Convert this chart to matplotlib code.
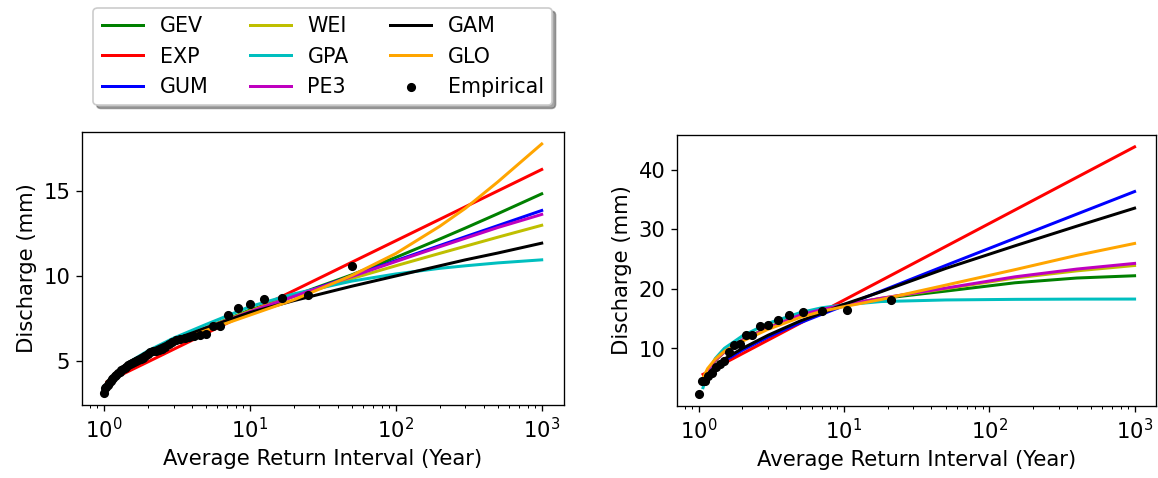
import matplotlib
matplotlib.use("Agg")
import matplotlib.pyplot as plt
import numpy as np

plt.rcParams['font.size'] = 12.7

## Left panel: return periods of the fitted curves and their quantiles (mm)
T_left = [1.05, 1.2, 1.5, 2, 3, 5, 10, 20, 50, 100, 200, 300, 500, 1000]
gev_left = [3.6, 4.15, 4.75, 5.35, 6.1, 6.95, 8.0, 8.84, 10.07, 11.09, 12.17, 12.82, 13.66, 14.83]
exp_left = [3.78, 4.02, 4.43, 4.95, 5.69, 6.62, 7.88, 9.14, 10.81, 12.07, 13.33, 14.07, 15.0, 16.26]
gum_left = [3.59, 4.26, 4.89, 5.48, 6.17, 6.93, 7.89, 8.81, 10.0, 10.9, 11.79, 12.31, 12.96, 13.85]
wei_left = [3.5, 4.2, 4.85, 5.47, 6.18, 6.95, 7.95, 8.8, 9.85, 10.6, 11.33, 11.75, 12.28, 12.98]
gpa_left = [3.4, 4.25, 4.95, 5.6, 6.35, 7.15, 8.2, 8.95, 9.7, 10.12, 10.45, 10.6, 10.77, 10.95]
pe3_left = [3.6, 4.25, 4.88, 5.47, 6.17, 6.93, 7.9, 8.8, 9.97, 10.85, 11.72, 12.22, 12.85, 13.62]
gam_left = [3.7, 4.3, 4.95, 5.55, 6.25, 6.95, 7.85, 8.55, 9.4, 10.0, 10.6, 10.95, 11.35, 11.93]
glo_left = [3.75, 4.3, 4.85, 5.4, 6.05, 6.8, 7.7, 8.6, 10.03, 11.32, 12.92, 13.98, 15.53, 17.76]

## Left panel empirical points, largest first (return period = n / rank)
emp_left = [10.58, 8.87, 8.68, 8.64, 8.35, 8.09, 7.70, 7.04, 7.04, 6.60,
            6.55, 6.48, 6.42, 6.37, 6.28, 6.21, 6.12, 6.00, 5.85, 5.72,
            5.67, 5.62, 5.58, 5.52, 5.40, 5.28, 5.18, 5.12, 5.05, 4.98,
            4.92, 4.86, 4.80, 4.75, 4.68, 4.60, 4.55, 4.47, 4.38, 4.28,
            4.17, 4.10, 4.02, 3.95, 3.85, 3.72, 3.60, 3.50, 3.40, 3.15]

## Right panel
T_right = [1.07, 1.15, 1.3, 1.5, 2, 3, 5, 7, 10, 18, 50, 150, 400, 1000]
gev_right = [4.5, 6.3, 8.0, 9.4, 11.4, 13.5, 15.6, 16.5, 17.3, 18.35, 19.6, 21.0, 21.8, 22.18]
exp_right = [5.63, 6.03, 6.71, 7.51, 9.12, 11.38, 14.23, 16.11, 18.10, 21.38, 27.08, 33.21, 38.69, 43.80]
gum_right = [3.9, 5.2, 6.6, 7.9, 9.7, 11.9, 14.3, 15.7, 17.15, 19.6, 23.9, 28.46, 32.52, 36.31]
wei_right = [4.3, 6.1, 7.9, 9.4, 11.4, 13.5, 15.6, 16.5, 17.3, 18.4, 20.0, 21.8, 23.0, 23.9]
gpa_right = [3.4, 5.9, 8.3, 10.0, 12.1, 14.2, 16.0, 16.8, 17.3, 17.85, 18.12, 18.22, 18.26, 18.27]
pe3_right = [4.6, 6.3, 8.0, 9.4, 11.4, 13.4, 15.6, 16.5, 17.3, 18.4, 20.1, 22.0, 23.3, 24.25]
gam_right = [4.6, 5.6, 7.0, 8.2, 10.0, 12.2, 14.6, 15.9, 17.4, 19.5, 23.4, 27.2, 30.5, 33.52]
glo_right = [5.0, 6.6, 8.2, 9.5, 11.2, 13.2, 15.2, 16.2, 17.0, 18.2, 20.6, 23.2, 25.6, 27.6]

emp_right = [18.1, 16.5, 16.3, 16.1, 15.6, 14.7, 14.0, 13.8, 12.3, 12.2, 10.7,
             10.5, 9.4, 7.9, 7.3, 6.8, 5.9, 5.4, 4.6, 4.5, 2.4]

names = ['GEV', 'EXP', 'GUM', 'WEI', 'GPA', 'PE3', 'GAM', 'GLO']
colors = ['g', 'r', 'b', 'y', 'c', 'm', 'k', 'orange']


def draw_panel(ax, T, curves, emp):
    # fitted distributions
    for vals, name, col in zip(curves, names, colors):
        ax.plot(T, vals, color=col, lw=1.8, label=name)
    # empirical return periods (n / rank)
    n = len(emp)
    T_emp = [n / (m + 1) for m in range(n)]
    ax.scatter(T_emp, emp, s=20, color='k', zorder=5, label='Empirical')
    ax.set_xscale('log')
    ax.set_xlabel('Average Return Interval (Year)')
    ax.set_ylabel('Discharge (mm)')


fig = plt.figure(figsize=(9.65, 3.985), dpi=120)
ax1 = fig.add_axes([0.0708, 0.1527, 0.4159, 0.5718])
ax2 = fig.add_axes([0.5846, 0.1506, 0.4140, 0.5676])

draw_panel(ax1, T_left, [gev_left, exp_left, gum_left, wei_left, gpa_left,
                         pe3_left, gam_left, glo_left], emp_left)
draw_panel(ax2, T_right, [gev_right, exp_right, gum_right, wei_right, gpa_right,
                          pe3_right, gam_right, glo_right], emp_right)

ax1.legend(loc='lower center', bbox_to_anchor=(0.5, 1.059), ncol=3, shadow=True,
           fontsize=12.4)

fig.savefig('out.png', dpi=120)
